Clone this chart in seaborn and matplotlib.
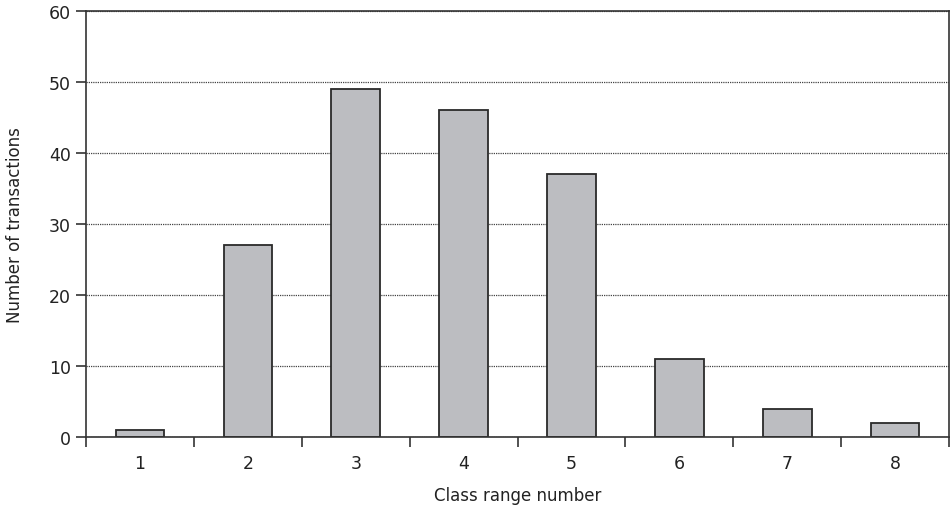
import matplotlib
matplotlib.use("Agg")
import matplotlib.pyplot as plt
import seaborn as sns
import numpy as np

# Data
classes = ["1", "2", "3", "4", "5", "6", "7", "8"]
transactions = [1, 27, 49, 46, 37, 11, 4, 2]

sns.set_theme(style="white")
plt.rcParams["font.family"] = ["Liberation Sans Narrow", "DejaVu Sans"]

fig = plt.figure(figsize=(9.51, 5.06), dpi=100)
ax = fig.add_axes([0.0904, 0.1344, 0.9076, 0.8419])

sns.barplot(x=classes, y=transactions, color="#bcbdc1", edgecolor="#2a2a2a",
            linewidth=1.3, width=0.45, saturation=1, ax=ax)

ax.set_xlim(-0.5, 7.5)
ax.set_ylim(0, 60)
ax.set_yticks(range(0, 61, 10))
ax.yaxis.grid(True, linestyle=(0, (1, 0.8)), color="#444444", linewidth=0.9)
ax.set_axisbelow(True)

# category ticks without marks, boundary ticks with marks
ax.set_xticks(range(len(classes)))
ax.set_xticklabels(classes)
ax.set_xticks(np.arange(-0.5, len(classes), 1), minor=True)
ax.tick_params(axis="x", which="major", length=0, pad=12, labelsize=12.5, colors="#222222")
ax.tick_params(axis="x", which="minor", length=7, width=1.2, color="#333333", direction="out")
ax.tick_params(axis="y", length=7, width=1.2, color="#333333", direction="out",
               labelsize=12.5, labelcolor="#222222", pad=4)
ax.xaxis.set_ticks_position("bottom")
ax.yaxis.set_ticks_position("left")

for s in ax.spines.values():
    s.set_color("#333333")
    s.set_linewidth(1.2)

ax.set_xlabel("Class range number", fontsize=12, color="#222222", labelpad=10)
ax.set_ylabel("Number of transactions", fontsize=12, color="#222222", labelpad=18)

fig.savefig("out.png", dpi=100)
